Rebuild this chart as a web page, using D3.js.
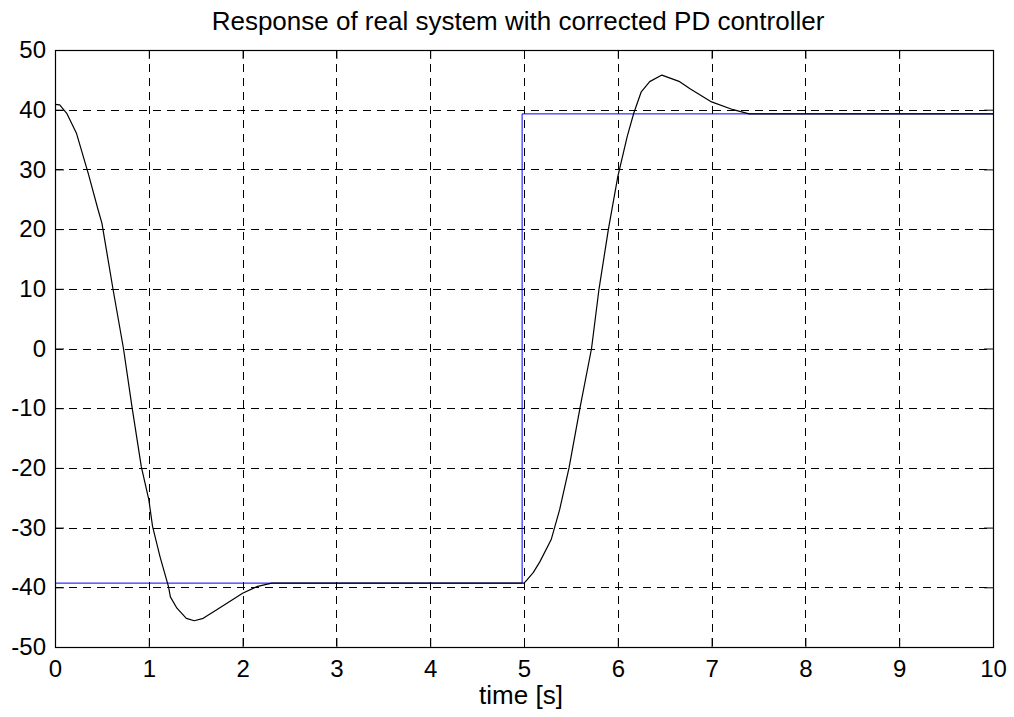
<!DOCTYPE html>
<html>
<head>
<meta charset="utf-8">
<script src="https://cdn.jsdelivr.net/npm/d3@7"></script>
<style>
  html, body { margin: 0; padding: 0; background: #fff; }
  svg { display: block; font-family: "Liberation Sans", Arial, sans-serif; }
</style>
</head>
<body>
<div id="chart"></div>
<script>
// values
const xTicks = [0, 1, 2, 3, 4, 5, 6, 7, 8, 9, 10];
const yTicks = [-50, -40, -30, -20, -10, 0, 10, 20, 30, 40, 50];

// reference step (blue)
const refTime  = [0, 4.98, 4.98, 10];
const refValue = [-39.3, -39.3, 39.3, 39.3];

// system response (black)
const respTime = [0, 0.05, 0.125, 0.23, 0.355, 0.46, 0.5, 0.62, 0.73, 0.82, 0.92, 1.0, 1.04, 1.12, 1.21,
  1.23, 1.3, 1.4, 1.485, 1.58, 1.72, 1.9, 2.0, 2.15, 2.31, 5.0, 5.03, 5.1, 5.17, 5.29, 5.38, 5.48, 5.6,
  5.72, 5.8, 5.9, 6.0, 6.1, 6.17, 6.25, 6.34, 6.47, 6.66, 6.77, 7.0, 7.23, 7.4, 10];
const respValue = [40.9, 40.8, 39.4, 36.0, 29.3, 23.2, 21.0, 9.8, 0, -9.7, -19.8, -25.3, -29.8, -34.9, -39.9,
  -41.6, -43.5, -45.2, -45.6, -45.2, -43.8, -42.0, -41.0, -39.9, -39.3, -39.3, -38.8, -37.5, -35.7, -32.0, -27.0, -20.0, -9.7,
  0, 10, 20, 28.8, 35.5, 39.4, 43.0, 44.7, 45.8, 44.7, 43.5, 41.3, 40.0, 39.3, 39.3];

const width = 1014, height = 717;
const margin = { top: 50, right: 21, bottom: 70, left: 55 };
const innerW = width - margin.left - margin.right;
const innerH = height - margin.top - margin.bottom;

const svg = d3.select('#chart').append('svg')
  .attr('width', width)
  .attr('height', height);

const g = svg.append('g')
  .attr('transform', `translate(${margin.left},${margin.top})`);

const x = d3.scaleLinear().domain([0, 10]).range([0, innerW]);
const y = d3.scaleLinear().domain([-50, 50]).range([innerH, 0]);

// grid
const grid = g.append('g').attr('class', 'grid')
  .attr('stroke', '#000')
  .attr('stroke-width', 1)
  .attr('stroke-dasharray', '8,6');

grid.selectAll('line.vx')
  .data(xTicks.slice(1, -1))
  .join('line')
  .attr('class', 'vx')
  .attr('x1', d => Math.round(x(d)) + 0.5)
  .attr('x2', d => Math.round(x(d)) + 0.5)
  .attr('y1', 0)
  .attr('y2', innerH);

grid.selectAll('line.hy')
  .data(yTicks.slice(1, -1))
  .join('line')
  .attr('class', 'hy')
  .attr('x1', 0)
  .attr('x2', innerW)
  .attr('y1', d => Math.round(y(d)) + 0.5)
  .attr('y2', d => Math.round(y(d)) + 0.5);

// lines
const line = (ts, vs) => d3.line()
  .x(i => x(ts[i]))
  .y(i => y(vs[i]))(d3.range(ts.length));

g.append('path')
  .attr('fill', 'none')
  .attr('stroke', '#0000ff')
  .attr('stroke-width', 1)
  .attr('d', line(refTime, refValue));

g.append('path')
  .attr('fill', 'none')
  .attr('stroke', '#000')
  .attr('stroke-width', 1.2)
  .attr('stroke-linejoin', 'round')
  .attr('d', line(respTime, respValue));

// axes (inward ticks, box)
const tickLen = 9;
const fontSize = 24;
const fmt = d => String(d);   // plain hyphen minus, like the original

const xAxis = g.append('g')
  .attr('transform', `translate(0,${innerH})`)
  .call(d3.axisBottom(x).tickValues(xTicks).tickSize(-tickLen).tickPadding(13).tickFormat(fmt));
const yAxis = g.append('g')
  .call(d3.axisLeft(y).tickValues(yTicks).tickSize(-tickLen).tickPadding(9).tickFormat(fmt));
g.append('g')
  .call(d3.axisTop(x).tickValues(xTicks).tickSize(-tickLen).tickFormat(''));
g.append('g')
  .attr('transform', `translate(${innerW},0)`)
  .call(d3.axisRight(y).tickValues(yTicks).tickSize(-tickLen).tickFormat(''));

g.selectAll('.domain').remove();
g.selectAll('.tick line').attr('stroke', '#000');
[xAxis, yAxis].forEach(a => a.selectAll('text')
  .attr('fill', '#000')
  .style('font-size', fontSize + 'px')
  .style('font-family', '"Liberation Sans", Arial, sans-serif'));

g.append('rect')
  .attr('x', 0.5)
  .attr('y', 0.5)
  .attr('width', innerW)
  .attr('height', innerH)
  .attr('fill', 'none')
  .attr('stroke', '#000')
  .attr('stroke-width', 1.2);

// labels
svg.append('text')
  .attr('x', 518)
  .attr('y', 30)
  .attr('text-anchor', 'middle')
  .style('font-size', '26px')
  .text('Response of real system with corrected PD controller');

svg.append('text')
  .attr('x', 521)
  .attr('y', 704)
  .attr('text-anchor', 'middle')
  .style('font-size', '26px')
  .text('time [s]');
</script>
</body>
</html>
